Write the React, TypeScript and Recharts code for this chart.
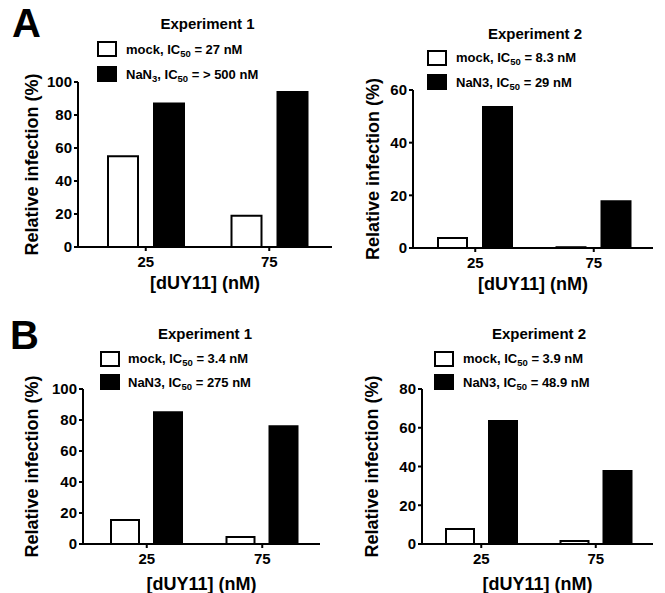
import React from "react";
import { BarChart, Bar, XAxis, YAxis } from "recharts";

// doses on the x axis
const doses = ["25", "75"];

// relative infection (%)
const a1Mock = [55, 19];
const a1NaN3 = [87, 94];
const a2Mock = [3.8, 0.3];
const a2NaN3 = [53.5, 17.8];
const b1Mock = [15.5, 4.5];
const b1NaN3 = [85, 76];
const b2Mock = [7.7, 1.5];
const b2NaN3 = [63.5, 37.7];

const ticks100 = [0, 20, 40, 60, 80, 100];
const ticks60 = [0, 20, 40, 60];
const ticks80 = [0, 20, 40, 60, 80];

// legend rows: [name, name subscript, IC50 value]
const a1Legend = [["mock", "", "27 nM"], ["NaN", "3", "> 500 nM"]];
const a2Legend = [["mock", "", "8.3 nM"], ["NaN3", "", "29 nM"]];
const b1Legend = [["mock", "", "3.4 nM"], ["NaN3", "", "275 nM"]];
const b2Legend = [["mock", "", "3.9 nM"], ["NaN3", "", "48.9 nM"]];

const FONT = '"Liberation Sans", Arial, Helvetica, sans-serif';
const tickStyle = { fill: "#000", fontSize: 15, fontWeight: 700 };
const labelStyle = { fill: "#000", fontSize: 18, fontWeight: 700, textAnchor: "middle" as const };

interface PanelProps {
  left: number;
  top: number;
  width: number;
  height: number;
  yAxisWidth: number;
  marginTop: number;
  marginRight: number;
  xAxisHeight: number;
  mock: number[];
  nan: number[];
  ticks: number[];
  padLeft: number;
  padRight: number;
  barSize: number;
  barGap: number;
  xLabelOffset: number;
  yLabelDx: number;
}

function Panel(p: PanelProps) {
  const data = doses.map((d, i) => ({ dose: d, mock: p.mock[i], nan: p.nan[i] }));
  const max = p.ticks[p.ticks.length - 1];
  return (
    <div style={{ position: "absolute", left: p.left, top: p.top }}>
      <BarChart
        width={p.width}
        height={p.height}
        data={data}
        margin={{ top: p.marginTop, right: p.marginRight, bottom: 0, left: 0 }}
        barSize={p.barSize}
        barGap={p.barGap}
      >
        <XAxis
          dataKey="dose"
          height={p.xAxisHeight}
          padding={{ left: p.padLeft, right: p.padRight }}
          axisLine={{ stroke: "#000", strokeWidth: 2 }}
          tickLine={{ stroke: "#000", strokeWidth: 2 }}
          tickSize={4}
          tickMargin={5}
          tick={tickStyle}
          label={{
            value: "[dUY11] (nM)",
            position: "insideTop",
            offset: p.xLabelOffset,
            style: labelStyle,
          }}
        />
        <YAxis
          width={p.yAxisWidth}
          domain={[0, max]}
          ticks={p.ticks}
          interval={0}
          axisLine={{ stroke: "#000", strokeWidth: 2 }}
          tickLine={{ stroke: "#000", strokeWidth: 2 }}
          tickSize={4}
          tickMargin={2}
          tick={tickStyle}
          label={{
            value: "Relative infection (%)",
            angle: -90,
            position: "insideLeft",
            dx: p.yLabelDx,
            textAnchor: "middle",
            style: labelStyle,
          }}
        />
        <Bar dataKey="mock" fill="#fff" stroke="#000" strokeWidth={2} isAnimationActive={false} />
        <Bar dataKey="nan" fill="#000" stroke="#000" strokeWidth={2} isAnimationActive={false} />
      </BarChart>
    </div>
  );
}

function Header({ x, y, title }: { x: number; y: number; title: string }) {
  return (
    <div
      style={{
        position: "absolute",
        left: x - 100,
        top: y - 7.5,
        width: 200,
        textAlign: "center",
        fontSize: 15,
        lineHeight: "15px",
        fontWeight: 700,
      }}
    >
      {title}
    </div>
  );
}

function LegendRows({ boxX, textX, rows, items }: { boxX: number; textX: number; rows: number[]; items: string[][] }) {
  const sub = { fontSize: 9.5, position: "relative" as const, top: 3 };
  return (
    <>
      {items.map((it, i) => (
        <React.Fragment key={i}>
          <div
            style={{
              position: "absolute",
              left: boxX,
              top: rows[i] - 8,
              width: 20,
              height: 16,
              boxSizing: "border-box",
              border: "2px solid #000",
              background: i === 0 ? "#fff" : "#000",
            }}
          />
          <div
            style={{
              position: "absolute",
              left: textX,
              top: rows[i] - 6.5,
              fontSize: 13,
              lineHeight: "13px",
              fontWeight: 700,
              whiteSpace: "nowrap",
            }}
          >
            {it[0]}
            {it[1] ? <span style={sub}>{it[1]}</span> : null}
            {", IC"}
            <span style={sub}>50</span>
            {" = " + it[2]}
          </div>
        </React.Fragment>
      ))}
    </>
  );
}

export default function App() {
  return (
    <div
      style={{
        position: "absolute",
        left: 0,
        top: 0,
        width: 665,
        height: 593,
        background: "#fff",
        fontFamily: FONT,
        color: "#000",
        overflow: "hidden",
      }}
    >
      <Panel
        left={0} top={0} width={340} height={300}
        yAxisWidth={78} marginTop={82} marginRight={8} xAxisHeight={53}
        mock={a1Mock} nan={a1NaN3} ticks={ticks100}
        padLeft={6} padRight={1} barSize={30} barGap={16}
        xLabelOffset={29} yLabelDx={27}
      />
      <Panel
        left={330} top={0} width={335} height={300}
        yAxisWidth={83} marginTop={90} marginRight={12} xAxisHeight={52}
        mock={a2Mock} nan={a2NaN3} ticks={ticks60}
        padLeft={3} padRight={0} barSize={29} barGap={16}
        xLabelOffset={29} yLabelDx={38}
      />
      <Panel
        left={0} top={300} width={330} height={293}
        yAxisWidth={83} marginTop={89} marginRight={10} xAxisHeight={49}
        mock={b1Mock} nan={b1NaN3} ticks={ticks100}
        padLeft={6} padRight={0} barSize={28} barGap={15}
        xLabelOffset={33} yLabelDx={27}
      />
      <Panel
        left={330} top={300} width={335} height={293}
        yAxisWidth={92} marginTop={89} marginRight={12} xAxisHeight={49}
        mock={b2Mock} nan={b2NaN3} ticks={ticks80}
        padLeft={2} padRight={0} barSize={28} barGap={15}
        xLabelOffset={33} yLabelDx={37}
      />

      <div style={{ position: "absolute", left: 12, top: 2.5, fontSize: 40, lineHeight: "40px", fontWeight: 700 }}>A</div>
      <div style={{ position: "absolute", left: 10, top: 315, fontSize: 40, lineHeight: "40px", fontWeight: 700 }}>B</div>

      <Header x={207.5} y={23} title="Experiment 1" />
      <Header x={535} y={33} title="Experiment 2" />
      <Header x={205} y={333} title="Experiment 1" />
      <Header x={539} y={333} title="Experiment 2" />

      <LegendRows boxX={97} textX={126} rows={[49, 74]} items={a1Legend} />
      <LegendRows boxX={427} textX={456} rows={[57.5, 82]} items={a2Legend} />
      <LegendRows boxX={100} textX={128} rows={[358.5, 382]} items={b1Legend} />
      <LegendRows boxX={434} textX={463} rows={[358.5, 382]} items={b2Legend} />
    </div>
  );
}
